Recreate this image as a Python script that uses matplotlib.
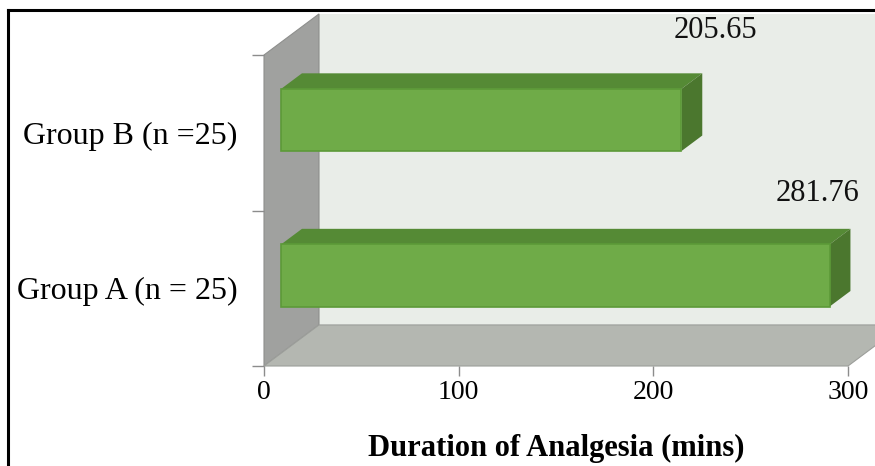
import matplotlib.pyplot as plt
from matplotlib.patches import Polygon
from matplotlib.lines import Line2D

groups = ["Group A (n = 25)", "Group B (n =25)"]
duration = [281.76, 205.65]
value_labels = ["281.76", "205.65"]
label_dx = [2.8, 26.5]
label_dy = [0.61, 0.655]

x_ticks = [0, 100, 200, 300]

# oblique "3D" depth, in data units
DX = 28.25
DY = 0.264
Z0, Z1 = 0.31, 0.69
HALF = 0.2

plt.rcParams['font.family'] = ['Liberation Serif', 'DejaVu Serif']

fig = plt.figure(figsize=(8.75, 4.66), dpi=100)
ax = fig.add_axes([264 / 875, 1 - 366 / 466, 584 / 875, 311 / 466])
ax.set_xlim(0, 300)
ax.set_ylim(-0.5, 1.5)
ax.set_facecolor('none')
for s in ax.spines.values():
    s.set_visible(False)

xmax = x_ticks[-1]
ybot, ytop = -0.5, len(groups) - 0.5

def poly(pts, fc, ec='none', lw=0.8, z=1):
    ax.add_patch(Polygon(pts, closed=True, facecolor=fc, edgecolor=ec,
                         linewidth=lw, clip_on=False, zorder=z))

# back wall, side wall, floor
poly([(DX, ybot + DY), (xmax + DX, ybot + DY), (xmax + DX, ytop + DY), (DX, ytop + DY)],
     '#e9ede8', z=0.5)
poly([(0, ybot), (DX, ybot + DY), (DX, ytop + DY), (0, ytop)], '#a0a19f',
     ec='#8e8f8d', z=0.6)
poly([(0, ybot), (xmax, ybot), (xmax + DX, ybot + DY), (DX, ybot + DY)], '#b4b7b1',
     ec='#9c9e9a', z=0.7)

for i, v in enumerate(duration):
    y0, y1 = i - HALF, i + HALF
    fx, fy = Z0 * DX, Z0 * DY
    bx, by = Z1 * DX, Z1 * DY
    # top face
    poly([(fx, y1 + fy), (v + fx, y1 + fy), (v + bx, y1 + by), (bx, y1 + by)],
         '#558a35', z=2)
    # end face
    poly([(v + fx, y0 + fy), (v + bx, y0 + by), (v + bx, y1 + by), (v + fx, y1 + fy)],
         '#4b772e', z=2)
    # front face
    poly([(fx, y0 + fy), (v + fx, y0 + fy), (v + fx, y1 + fy), (fx, y1 + fy)],
         '#6fab48', ec='#5c9a38', lw=1.2, z=3)
    ax.text(v + label_dx[i], i + label_dy[i], value_labels[i], ha='center', va='center',
            fontsize=22, color='#111111')

ax.set_xticks(x_ticks)
ax.set_xticklabels([str(t) for t in x_ticks], fontsize=20)
ax.tick_params(axis='x', length=7, color='#8c8c8c', width=1, pad=3)

ax.set_yticks(range(len(groups)))
ax.set_yticklabels(groups, fontsize=23)
ax.tick_params(axis='y', which='major', length=0, pad=19)
ax.set_yticks([ybot, 0.5, ytop], minor=True)
ax.tick_params(axis='y', which='minor', length=9, color='#8c8c8c', width=1)

ax.set_xlabel("Duration of Analgesia (mins)", fontsize=22, fontweight='bold',
              labelpad=21)

# frame lines along the top and left edges
fig.add_artist(Line2D([8 / 875, 1], [1 - 10 / 466] * 2, color='black', lw=2.2))
fig.add_artist(Line2D([8 / 875] * 2, [0, 1 - 10 / 466], color='black', lw=2.2))

fig.savefig('out.png', dpi=100)
